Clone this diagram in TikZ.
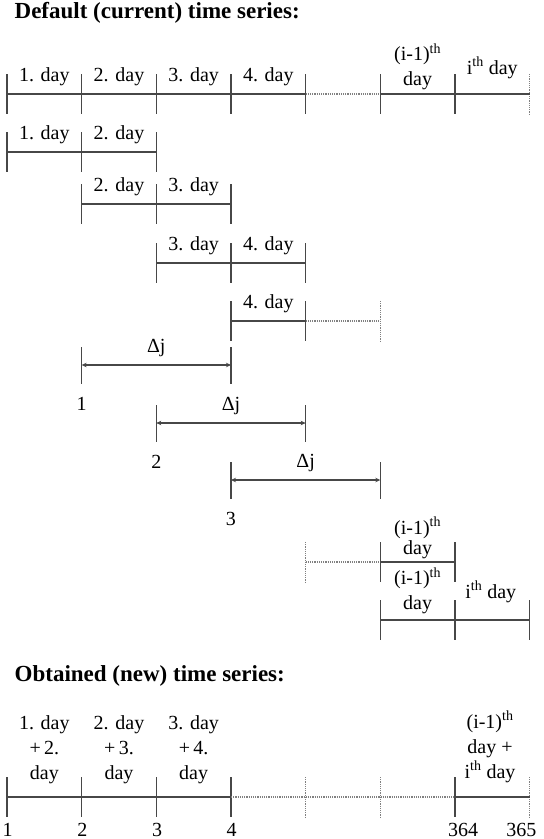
\documentclass[tikz,border=0pt]{standalone}
\usepackage{fontspec}
\setmainfont{Liberation Serif}
\usetikzlibrary{arrows.meta, positioning, calc}

% one vertical tick of a time axis: style, day index, height of the axis
\newcommand{\daytick}[3][axis]{\draw[#1] (#2,#3-20) -- (#2,#3+20);}

\begin{document}
\begin{tikzpicture}[x=74.66pt, y=-1pt,
    axis/.style={draw=black!72, line width=1.2pt},
    dotaxis/.style={draw=black!50, line width=1.2pt, densely dotted},
    daylbl/.style={font=\fontsize{20}{25}\selectfont, inner sep=0pt, align=center},
    tightlbl/.style={font=\fontsize{20}{20}\selectfont, inner sep=0pt, align=center},
    numlbl/.style={font=\fontsize{20}{24}\selectfont, inner sep=0pt, anchor=base},
    title/.style={font=\fontsize{23}{27}\selectfont\bfseries, anchor=west, inner sep=0pt},
    span/.style={axis, {Stealth[length=5pt,width=4.5pt]}-{Stealth[length=5pt,width=4.5pt]}}]

  \useasboundingbox (-0.0938,0) rectangle (7.1926,839);

  % default series
  \node[title] (deftitle) at (0.1,13) {Default (current) time series:};

  \foreach \i in {0,...,7} {\coordinate (a\i) at (\i,94);}
  \foreach \i in {0,...,6} {\daytick{\i}{94}}
  \daytick[dotaxis]{7}{94}
  \draw[axis] (a0) -- (a4);
  \draw[dotaxis] (a4) -- (a5);
  \draw[axis] (a5) -- (a7);
  \foreach \i/\t in {0/1, 1/2, 2/3, 3/4} {\node[daylbl] (al\t) at (\i+0.5,77) {\t. day};}
  \node[daylbl] (alm) at (5.5,67) {(i-1)\textsuperscript{th}\\day};
  \node[daylbl] (ali) at (6.5,68) {i\textsuperscript{th} day};

  % moving pairs of days
  \foreach \s/\y in {0/152, 1/204, 2/263} {
    \pgfmathtruncatemacro{\m}{\s+1}
    \pgfmathtruncatemacro{\e}{\s+2}
    \foreach \i in {\s,\m,\e} {\daytick{\i}{\y}}
    \draw[axis] (\s,\y) -- (\e,\y);
    \pgfmathtruncatemacro{\fa}{\s+1}
    \pgfmathtruncatemacro{\fb}{\s+2}
    \node[daylbl] (p\s a) at (\s+0.5,\y-17) {\fa. day};
    \node[daylbl] (p\s b) at (\s+1.5,\y-17) {\fb. day};
  }
  \coordinate (b3) at (3,321);
  \coordinate (b4) at (4,321);
  \coordinate (b5) at (5,321);
  \daytick{3}{321}
  \daytick{4}{321}
  \daytick[dotaxis]{5}{321}
  \draw[axis] (b3) -- (b4);
  \draw[dotaxis] (b4) -- (b5);
  \node[daylbl] (bl) at (3.5,304) {4. day};

  % window of length Delta j
  \foreach \s/\y in {1/365, 2/423, 3/480} {
    \pgfmathtruncatemacro{\e}{\s+2}
    \pgfmathtruncatemacro{\n}{\s}
    \coordinate (w\s a) at (\s,\y);
    \coordinate (w\s b) at (\e,\y);
    \draw[axis] (\s,\y-18) -- (\s,\y+19);
    \draw[axis] (\e,\y-18) -- (\e,\y+19);
    \draw[span] (w\s a) -- (w\s b);
    \node[daylbl] (wd\s) at (\s+1,\y-17) {Δj};
    \node[numlbl] (wn\s) at (\s,\y+45) {\n};
  }

  % last pairs of days
  \coordinate (c4) at (4,562);
  \coordinate (c5) at (5,562);
  \coordinate (c6) at (6,562);
  \daytick[dotaxis]{4}{562}
  \daytick{5}{562}
  \daytick{6}{562}
  \draw[dotaxis] (c4) -- (c5);
  \draw[axis] (c5) -- (c6);
  \node[tightlbl] (clm) at (5.5,538) {(i-1)\textsuperscript{th}\\day};

  \coordinate (d5) at (5,620);
  \coordinate (d7) at (7,620);
  \foreach \i in {5,6,7} {\daytick{\i}{620}}
  \draw[axis] (d5) -- (d7);
  \node[daylbl] (dlm) at (5.5,591) {(i-1)\textsuperscript{th}\\day};
  \node[daylbl] (dli) at (6.48,592) {i\textsuperscript{th} day};

  % new series
  \node[title] (newtitle) at (0.1,676) {Obtained (new) time series:};

  \foreach \i in {0,...,7} {\coordinate (e\i) at (\i,797);}
  \foreach \i in {0,1,2,3,6} {\daytick{\i}{797}}
  \foreach \i in {4,5,7} {\daytick[dotaxis]{\i}{797}}
  \draw[axis] (e0) -- (e3);
  \draw[dotaxis] (e3) -- (e6);
  \draw[axis] (e6) -- (e7);
  \foreach \i/\t/\u in {0/1/2, 1/2/3, 2/3/4} {
    \node[daylbl] (el\t) at (\i+0.5,750) {\t. day\\+\,\u.\\day};
  }
  \node[daylbl] (elm) at (6.47,747) {(i-1)\textsuperscript{th}\\day +\\i\textsuperscript{th} day};
  \foreach \i/\t in {0/1, 1/2, 2/3, 3/4} {\node[numlbl] (en\t) at (\i+0.01,836) {\t};}
  \node[numlbl] (en364) at (6.11,836) {364};
  \node[numlbl] (en365) at (6.89,836) {365};
\end{tikzpicture}
\end{document}
